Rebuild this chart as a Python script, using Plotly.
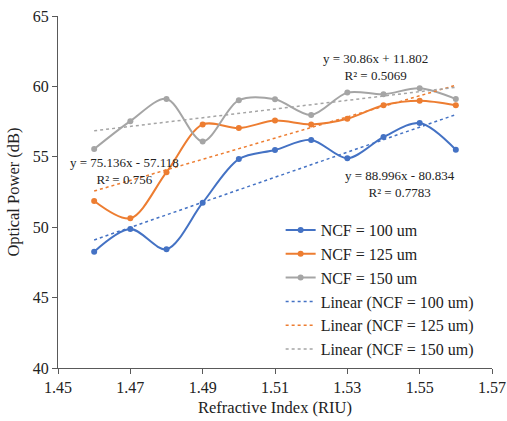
import numpy as np
import plotly.graph_objects as go

x_vals = [1.46, 1.47, 1.48, 1.49, 1.50, 1.51, 1.52, 1.53, 1.54, 1.55, 1.56]
ncf100 = [48.26, 49.87, 48.43, 51.74, 54.84, 55.48, 56.20, 54.90, 56.40, 57.40, 55.50]
ncf125 = [51.86, 50.63, 53.91, 57.30, 57.04, 57.57, 57.30, 57.70, 58.66, 58.98, 58.66]
ncf150 = [55.55, 57.53, 59.11, 56.09, 59.02, 59.08, 57.97, 59.56, 59.44, 59.86, 59.10]

series_names = ["NCF = 100 um", "NCF = 125 um", "NCF = 150 um"]
colors = ["#4472C4", "#ED7D31", "#A5A5A5"]
eq_texts = [
    "y = 88.996x - 80.834<br>R² = 0.7783",
    "y = 75.136x - 57.118<br>R² = 0.756",
    "y = 30.86x + 11.802<br>R² = 0.5069",
]
x_ticks = [1.45, 1.47, 1.49, 1.51, 1.53, 1.55, 1.57]
y_ticks = [40, 45, 50, 55, 60, 65]

FONT = "Liberation Serif, Times New Roman, serif"
TXT = "#222222"

fig = go.Figure()
all_series = [ncf100, ncf125, ncf150]
for name, ys, c in zip(series_names, all_series, colors):
    fig.add_trace(go.Scatter(
        x=x_vals, y=ys, name=name, mode="lines+markers",
        line=dict(color=c, width=2, shape="spline", smoothing=0.9),
        marker=dict(color=c, size=6),
    ))
for name, ys, c in zip(series_names, all_series, colors):
    k, b = np.polyfit(x_vals, ys, 1)
    xs = [x_vals[0], x_vals[-1]]
    fig.add_trace(go.Scatter(
        x=xs, y=[k * v + b for v in xs], name=f"Linear ({name})", mode="lines",
        line=dict(color=c, width=1.5, dash="dot"),
    ))

# equation labels (positions in data coordinates)
eq_pos = [(1.5446, 53.1), (1.4685, 53.99), (1.5379, 61.38)]
for t, (ax, ay) in zip(eq_texts, eq_pos):
    fig.add_annotation(x=ax, y=ay, text=t, showarrow=False, xanchor="center", yanchor="middle",
                       font=dict(family=FONT, size=13, color=TXT), align="center")

axis_common = dict(showgrid=False, zeroline=False, showline=True, linecolor="#595959", linewidth=1.3,
                   ticks="outside", ticklen=5, tickcolor="#595959", tickwidth=1.3, automargin=False,
                   tickfont=dict(family=FONT, size=16, color=TXT))
fig.update_xaxes(range=[1.45, 1.57], tickvals=x_ticks, ticktext=[f"{v:.2f}" for v in x_ticks],
                 title=dict(text="Refractive Index (RIU)", font=dict(family=FONT, size=16.5, color=TXT), standoff=6),
                 **axis_common)
fig.update_yaxes(range=[40, 65], tickvals=y_ticks,
                 title=dict(text="Optical Power (dB)", font=dict(family=FONT, size=16.5, color=TXT), standoff=8),
                 **axis_common)

fig.update_layout(
    template="none",
    width=507, height=421,
    margin=dict(l=58, r=15, t=16, b=53),
    paper_bgcolor="white", plot_bgcolor="white",
    showlegend=True,
    legend=dict(x=0.513, y=0.44, xanchor="left", yanchor="top", bgcolor="rgba(0,0,0,0)",
                font=dict(family=FONT, size=16, color=TXT), tracegroupgap=0),
)
fig.write_html("out.html")
